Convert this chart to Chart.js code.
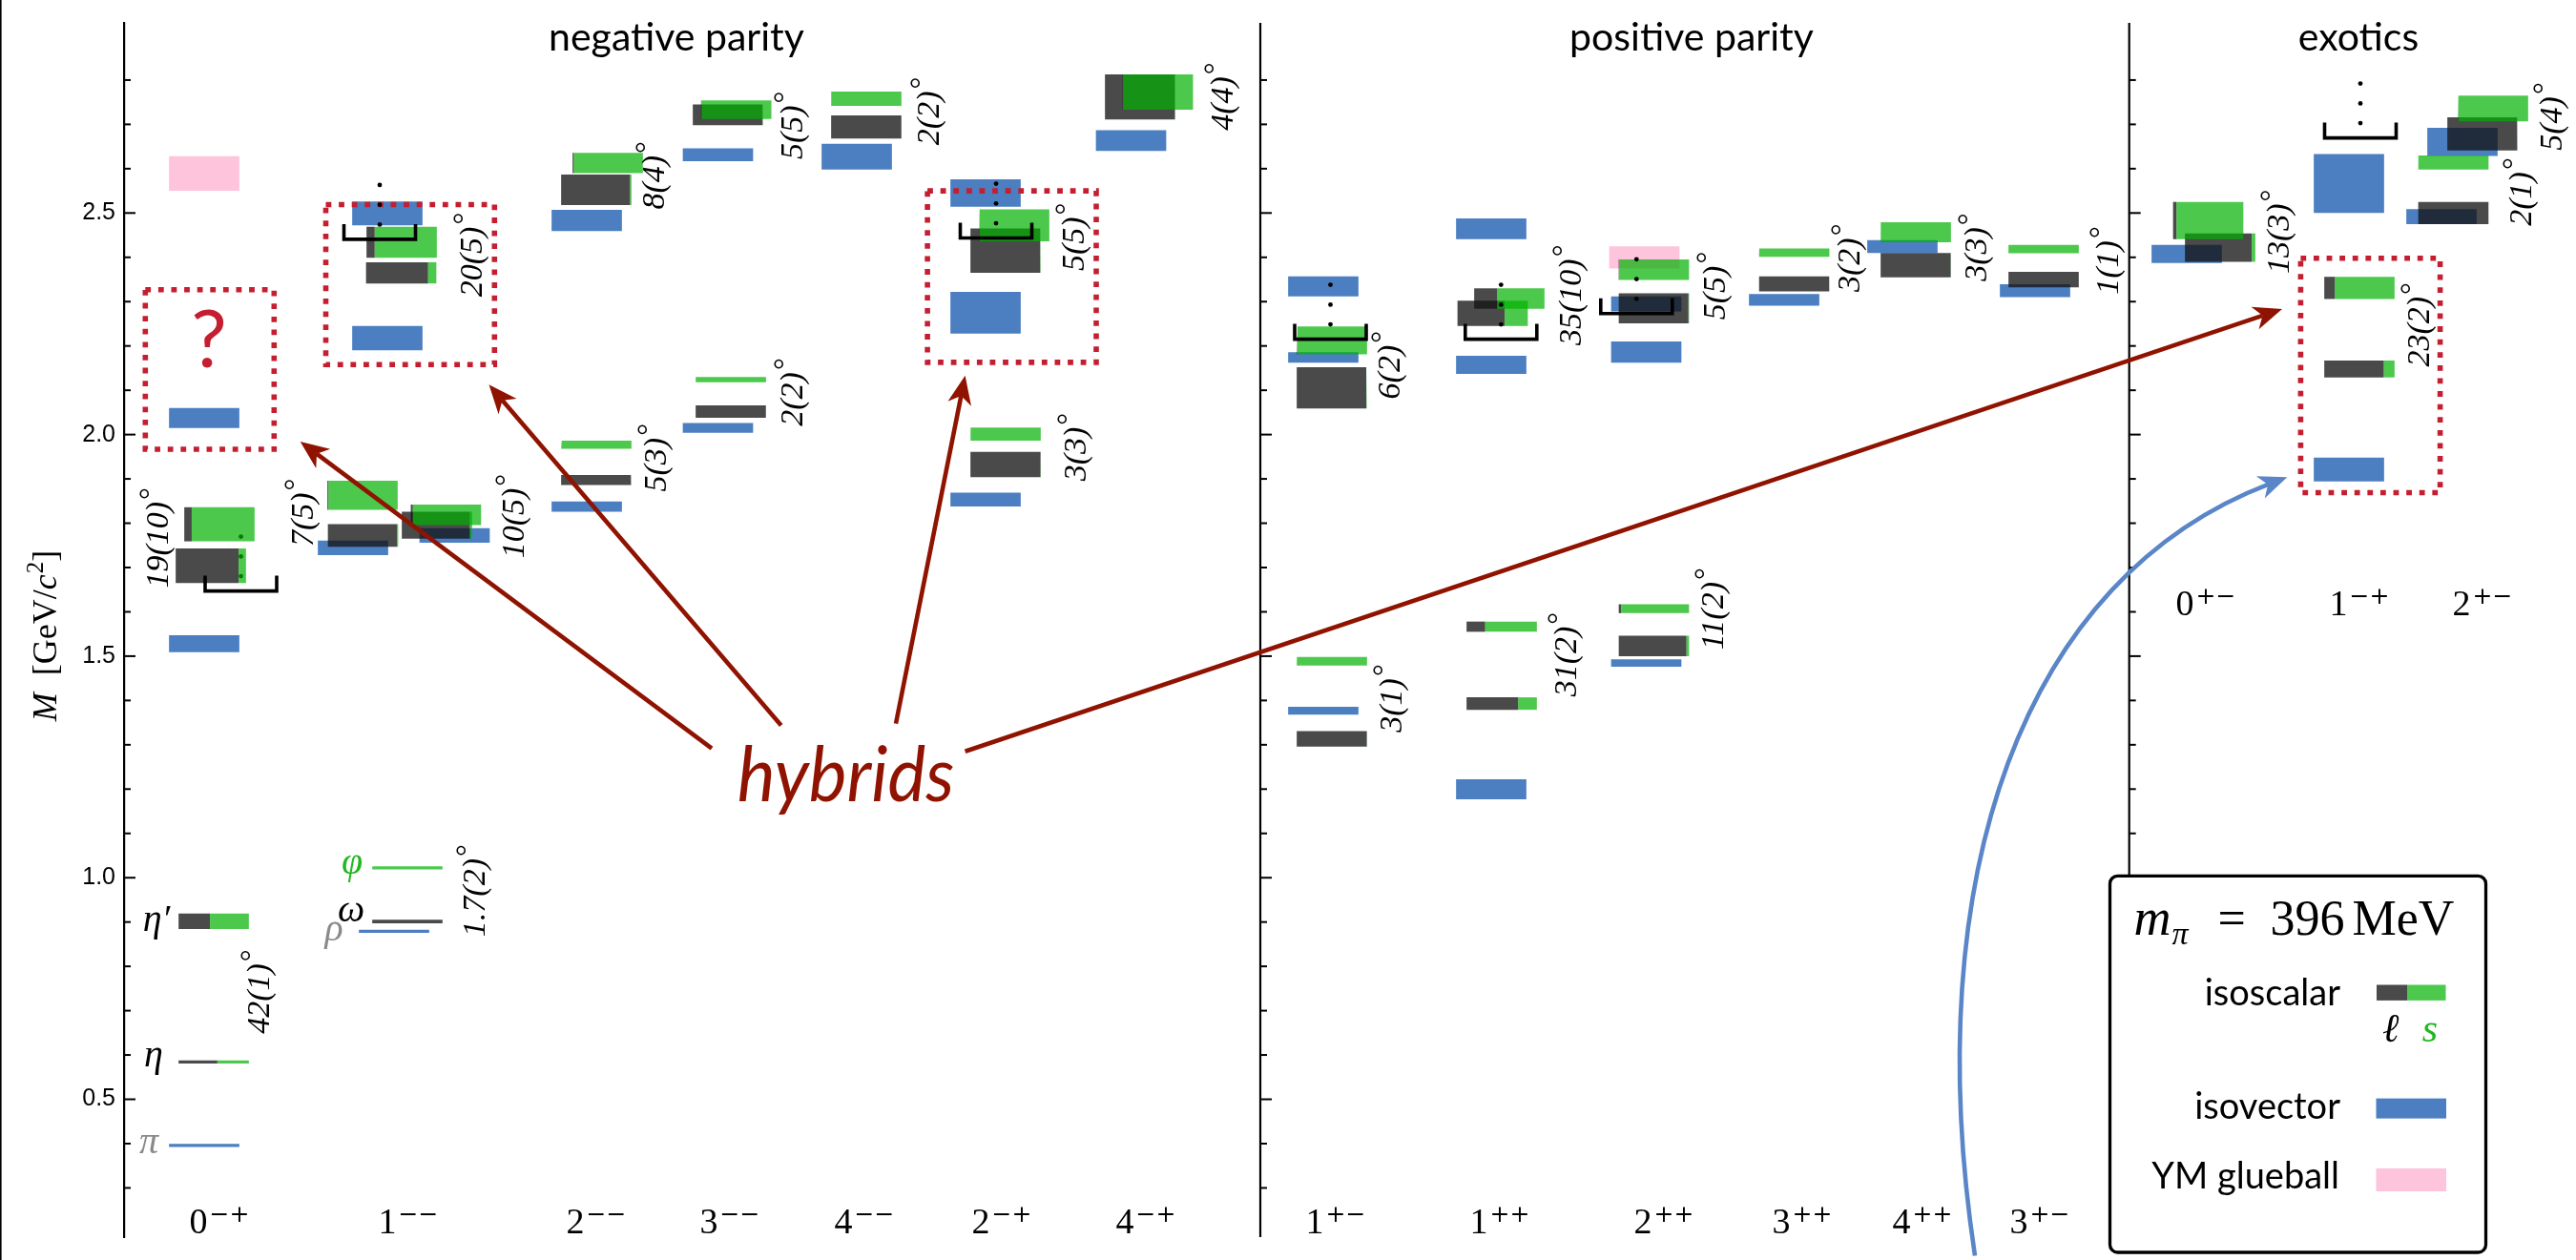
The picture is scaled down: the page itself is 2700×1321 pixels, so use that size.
<!DOCTYPE html>
<html>
<head>
<meta charset="utf-8">
<title>Meson spectrum, m_pi = 396 MeV</title>
<script src="https://cdn.jsdelivr.net/npm/chart.js@4.4.1/dist/chart.umd.min.js"></script>
<style>
  html, body { margin: 0; padding: 0; background: #fff; }
  #wrap { width: 2700px; height: 1321px; position: relative; }
</style>
</head>
<body>
<div id="wrap"><canvas id="spectrum" width="2700" height="1321"></canvas></div>
<script>
// ---------------- data (masses in GeV) ----------------
const channels = ['0-+','1--','2--','3--','4--','2-+','4-+','1+-','1++','2++','3++','4++','3+-','0+-','1-+','2+-'];
const sectionTitles = ['negative parity', 'positive parity', 'exotics'];
const yTickLabels = [0.5, 1.0, 1.5, 2.0, 2.5];
const tickSpan = [0.3, 2.8];
const pionMass = 0.396;

// isovector levels: [channel, M low, M high]
const isovector = [
  ['0-+', 0.3925, 0.3995], ['0-+', 1.509, 1.547], ['0-+', 2.015, 2.060],
  ['1--', 0.8755, 0.8825], ['1--', 1.728, 1.761], ['1--', 1.756, 1.789], ['1--', 2.190, 2.245], ['1--', 2.472, 2.526],
  ['2--', 1.826, 1.849], ['2--', 2.459, 2.507],
  ['3--', 2.004, 2.026], ['3--', 2.617, 2.646],
  ['4--', 2.598, 2.656],
  ['2-+', 1.838, 1.869], ['2-+', 2.228, 2.322], ['2-+', 2.514, 2.576],
  ['4-+', 2.640, 2.687],
  ['1+-', 1.368, 1.386], ['1+-', 2.162, 2.186], ['1+-', 2.312, 2.357],
  ['1++', 1.177, 1.222], ['1++', 2.137, 2.178], ['1++', 2.441, 2.488],
  ['2++', 1.476, 1.493], ['2++', 2.162, 2.210], ['2++', 2.278, 2.312],
  ['3++', 2.291, 2.317],
  ['4++', 2.410, 2.439],
  ['3+-', 2.310, 2.339],
  ['0+-', 2.387, 2.428],
  ['1-+', 1.894, 1.948], ['1-+', 2.500, 2.633],
  ['2+-', 2.475, 2.509], ['2+-', 2.629, 2.692]
];

// Yang-Mills glueballs: [channel, M low, M high]
const glueball = [['0-+', 2.550, 2.628], ['2++', 2.375, 2.425]];

// isoscalar pairs: [channel, mixing angle (deg), its uncertainty,
//                   light-dominated M low, M high, strange-dominated M low, M high]
const isoscalarPairs = [
  ['0-+', 42, '1', 0.5805, 0.5875, 0.884, 0.919],
  ['0-+', 19, '10', 1.665, 1.743, 1.759, 1.836],
  ['1--', 1.7, '2', 0.897, 0.905, 1.019, 1.026],
  ['1--', 7, '5', 1.747, 1.798, 1.830, 1.896],
  ['1--', 10, '5', 1.765, 1.826, 1.796, 1.842],
  ['1--', 20, '5', 2.341, 2.389, 2.399, 2.469],
  ['2--', 5, '3', 1.886, 1.909, 1.968, 1.9865],
  ['2--', 8, '4', 2.518, 2.587, 2.590, 2.636],
  ['3--', 2, '2', 2.038, 2.066, 2.118, 2.130],
  ['3--', 5, '5', 2.698, 2.745, 2.712, 2.754],
  ['4--', 2, '2', 2.668, 2.720, 2.742, 2.774],
  ['2-+', 3, '3', 1.904, 1.961, 1.9865, 2.016],
  ['2-+', 5, '5', 2.365, 2.465, 2.436, 2.508],
  ['4-+', 4, '4', 2.711, 2.813, 2.733, 2.813],
  ['1+-', 3, '1', 1.296, 1.331, 1.479, 1.498],
  ['1+-', 6, '2', 2.059, 2.152, 2.181, 2.244],
  ['1++', 31, '2', 1.379, 1.407, 1.555, 1.578],
  ['1++', 35, '10', 2.245, 2.302, 2.284, 2.330],
  ['2++', 11, '2', 1.500, 1.546, 1.597, 1.617],
  ['2++', 5, '5', 2.251, 2.319, 2.349, 2.395],
  ['3++', 3, '2', 2.323, 2.357, 2.401, 2.420],
  ['4++', 3, '3', 2.355, 2.410, 2.434, 2.479],
  ['3+-', 1, '1', 2.332, 2.367, 2.409, 2.428],
  ['0+-', 13, '3', 2.390, 2.454, 2.441, 2.525],
  ['1-+', 23, '2', 2.129, 2.167, 2.306, 2.356],
  ['2+-', 2, '1', 2.475, 2.525, 2.598, 2.630],
  ['2+-', 5, '4', 2.641, 2.716, 2.707, 2.765]
];

// channels where more states lie above the computed ones, with the mass of the cut
const towerChannels = ['0-+', '1--', '2-+', '1+-', '1++', '2++', '1-+'];
const towerMass = [1.647, 2.4406, 2.4435, 2.2153, 2.2153, 2.2729, 2.6694];

// hybrid candidates: [channel, M low, M high] of the highlighted region
const hybridRegions = [['0-+', 1.967, 2.327], ['1--', 2.158, 2.519], ['2-+', 2.163, 2.550], ['1-+', 1.869, 2.398]];

// ---------------- layout ----------------
const BAR_W = 73.7;
const columnX = {
  '0-+': 230, '1--': 428, '2--': 625, '3--': 765, '4--': 906, '2-+': 1050, '4-+': 1201,
  '1+-': 1400, '1++': 1572, '2++': 1744, '3++': 1889, '4++': 2015, '3+-': 2138,
  '0+-': 2312, '1-+': 2473, '2+-': 2602
};
const exoticRow = ['0+-', '1-+', '2+-'];
const isovectorDx = [-16, -16, -16, -15, -58, 48.5, -22, -22, -10, -10, -12.5, -12.5, -8, -17, -17, -17, -15.5,
  -13, -13, -13, -9, -9, -9, -18.5, -18.5, -18.5, -19, -21, -5, -20, -11, -11, -43, -21];
const glueballDx = [-16, -20.5];
const pairDx = [[-6, -6], [-9, 0], [-1, -1], [-47.5, -48], [30, 39.4], [-7.5, -7], [0, 0], [0, 12], [1, 1], [-2, 6.7],
  [2, 2], [4, 4], [4, 13], [-6, 12.6], [-4, -4], [-4, -4], [2, 2], [-7.5, 10], [-10.5, -10.5], [-10.5, -10.5],
  [-8.4, -8.4], [-7, -7], [4, 4], [15, 2.5], [0, 0], [-30.5, -30.5], [0, 11]];
const angleLabelAt = [[266.5, 0.743], [160.7, 1.767], [493, 0.971], [312.5, 1.824], [533.5, 1.816], [489.7, 2.406],
  [683, 1.948], [681, 2.585], [826, 2.096], [826, 2.698], [969, 2.730], [1123, 1.972], [1121, 2.446], [1277, 2.763],
  [1454, 1.405], [1451.8, 2.157], [1637, 1.504], [1641.5, 2.315], [1791, 1.607], [1793, 2.336], [1934, 2.399],
  [2067, 2.423], [2205, 2.393], [2384, 2.458], [2531, 2.248], [2638, 2.548], [2669.6, 2.718]];
const towerX = [252.5, 398, 1044, 1394.5, 1573.3, 1715.3, 2474];
const towerDotsUnder = [true, false, false, false, false, false, false];
const hybridBoxX = [[152.3, 287.3], [341.5, 518.3], [972.1, 1149], [2411.4, 2557.6]];
const axisX = [130, 1321, 2231.7];
const sectionX = [709, 1773, 2472];
const labelRowMass = { main: 0.197, exotic: 1.5923 };

const BLUE = '#4b7fc1', PINK = '#fdc4dc', GRAY = 'rgba(20,20,20,0.77)', GREEN = 'rgba(0,178,0,0.7)';
const RED_BOX = '#c41e30', HYBRID_RED = '#8f1300', ARROW_BLUE = '#5a86c8';
const SERIF = '"Liberation Serif", "DejaVu Serif", serif';
const SANS = 'Lato, "Open Sans", "DejaVu Sans", sans-serif';

// ---------------- rectangles as closed line shapes ----------------
const pinkPts = [], bluePts = [], grayPts = [], greenPts = [];
function addRect(pts, xa, xb, lo, hi) {
  if (xb - xa <= 0) return;
  pts.push({x: xa, y: lo}, {x: xb, y: lo}, {x: xb, y: hi}, {x: xa, y: hi}, {x: xa, y: null});
}
glueball.forEach(([ch, lo, hi], i) => {
  const c = columnX[ch] + glueballDx[i];
  addRect(pinkPts, c - BAR_W / 2, c + BAR_W / 2, lo, hi);
});
isovector.forEach(([ch, lo, hi], i) => {
  const c = columnX[ch] + isovectorDx[i];
  addRect(bluePts, c - BAR_W / 2, c + BAR_W / 2, lo, hi);
});
isoscalarPairs.forEach(([ch, theta, sig, lLo, lHi, sLo, sHi], i) => {
  const rad = theta * Math.PI / 180;
  const states = [
    [lLo, lHi, Math.cos(rad) ** 2, pairDx[i][0]],   // light-quark fraction cos^2
    [sLo, sHi, Math.sin(rad) ** 2, pairDx[i][1]]    // light-quark fraction sin^2
  ];
  for (const [lo, hi, f, dx] of states) {
    const left = columnX[ch] + dx - BAR_W / 2;
    const split = left + f * BAR_W;
    addRect(grayPts, left, split, lo, hi);
    addRect(greenPts, split, left + BAR_W, lo, hi);
  }
});

// ---------------- text helpers ----------------
function angleLabel(ctx, theta, sigma, px, py) {
  const main = `${theta}(${sigma})`;
  ctx.save();
  ctx.translate(px, py);
  ctx.rotate(-Math.PI / 2);
  ctx.textAlign = 'left';
  ctx.textBaseline = 'alphabetic';
  ctx.fillStyle = '#000';
  ctx.font = `italic 34px ${SERIF}`;
  const w = ctx.measureText(main).width;
  ctx.font = `32px ${SERIF}`;
  const wd = ctx.measureText('°').width;
  const x0 = -(w + wd + 2) / 2;
  ctx.font = `italic 34px ${SERIF}`;
  ctx.fillText(main, x0, 15);
  ctx.font = `32px ${SERIF}`;
  ctx.fillText('°', x0 + w + 2, 7);
  ctx.restore();
}

function channelLabel(ctx, ch, cx, baseY) {
  const J = ch[0];
  const pc = ch.slice(1).replace(/-/g, '\u2212');
  ctx.save();
  ctx.textAlign = 'left';
  ctx.textBaseline = 'alphabetic';
  ctx.fillStyle = '#000';
  ctx.font = `38px ${SERIF}`;
  const wJ = ctx.measureText(J).width;
  ctx.font = `25px "DejaVu Serif", ${SERIF}`;
  const wS = ctx.measureText(pc).width;
  const gap = 2;
  const x0 = cx - (wJ + gap + wS) / 2;
  ctx.font = `38px ${SERIF}`;
  ctx.fillText(J, x0, baseY);
  ctx.font = `25px "DejaVu Serif", ${SERIF}`;
  ctx.fillText(pc, x0 + wJ + gap, baseY - 12);
  ctx.restore();
}

function arrow(ctx, x0, y0, x1, y1, color, width, len, halfW) {
  const ang = Math.atan2(y1 - y0, x1 - x0);
  const notch = 0.72;
  const ca = Math.cos(ang), sa = Math.sin(ang);
  ctx.save();
  ctx.strokeStyle = color; ctx.fillStyle = color; ctx.lineWidth = width; ctx.lineCap = 'butt';
  ctx.beginPath();
  ctx.moveTo(x0, y0);
  ctx.lineTo(x1 - ca * len * notch, y1 - sa * len * notch);
  ctx.stroke();
  arrowHead(ctx, x1, y1, ang, len, halfW, notch);
  ctx.restore();
}
function arrowHead(ctx, tx, ty, ang, len, halfW, notch) {
  const ca = Math.cos(ang), sa = Math.sin(ang);
  const bx = tx - ca * len, by = ty - sa * len;
  const nx = -sa, ny = ca;
  ctx.beginPath();
  ctx.moveTo(tx, ty);
  ctx.lineTo(bx + nx * halfW, by + ny * halfW);
  ctx.lineTo(tx - ca * len * notch, ty - sa * len * notch);
  ctx.lineTo(bx - nx * halfW, by - ny * halfW);
  ctx.closePath();
  ctx.fill();
}

// ---------------- annotation plugin ----------------
const annotations = {
  id: 'spectrumAnnotations',
  beforeDatasetsDraw(chart) {
    const {ctx} = chart;
    const X = v => chart.scales.x.getPixelForValue(v);
    const Y = v => chart.scales.y.getPixelForValue(v);
    ctx.save();
    ctx.fillStyle = '#000';
    towerChannels.forEach((ch, i) => {
      if (!towerDotsUnder[i]) return;
      drawTowerDots(ctx, X(towerX[i]), Y(towerMass[i]));
    });
    ctx.restore();
  },
  afterDatasetsDraw(chart) {
    const {ctx, chartArea} = chart;
    const xs = chart.scales.x, ys = chart.scales.y;
    const X = v => xs.getPixelForValue(v);
    const Y = v => ys.getPixelForValue(v);
    ctx.save();

    // frame line on the far left
    ctx.fillStyle = '#000';
    ctx.fillRect(0, 0, 1.6, chart.height);

    // section axes and inward ticks
    ctx.strokeStyle = '#000';
    axisX.forEach((ax, k) => {
      const px = X(ax);
      if (k > 0) {
        ctx.lineWidth = 2.2;
        ctx.beginPath(); ctx.moveTo(px, chartArea.top); ctx.lineTo(px, chartArea.bottom); ctx.stroke();
      }
      ctx.lineWidth = 2;
      ys.ticks.forEach(t => {
        const major = yTickLabels.some(v => Math.abs(v - t.value) < 1e-6);
        const py = Y(t.value);
        ctx.beginPath(); ctx.moveTo(px, py); ctx.lineTo(px + (major ? 12 : 7), py); ctx.stroke();
      });
    });

    // hybrid regions: dotted red boxes
    ctx.save();
    ctx.strokeStyle = RED_BOX; ctx.lineWidth = 5.6; ctx.setLineDash([5.8, 7.8]); ctx.lineCap = 'butt';
    hybridRegions.forEach(([ch, lo, hi], i) => {
      const xa = X(hybridBoxX[i][0]), xb = X(hybridBoxX[i][1]);
      ctx.strokeRect(xa, Y(hi), xb - xa, Y(lo) - Y(hi));
    });
    ctx.restore();

    // question mark in the 0-+ hybrid region
    ctx.fillStyle = RED_BOX;
    ctx.font = `84px ${SANS}`;
    ctx.textAlign = 'center'; ctx.textBaseline = 'alphabetic';
    ctx.fillText('?', X(219), Y(2.151));

    // brackets marking further states above
    ctx.strokeStyle = '#000'; ctx.lineWidth = 3.6; ctx.lineJoin = 'miter';
    towerChannels.forEach((ch, i) => {
      const cx = X(towerX[i]), cy = Y(towerMass[i]);
      ctx.beginPath();
      ctx.moveTo(cx - 37.5, cy - 16); ctx.lineTo(cx - 37.5, cy); ctx.lineTo(cx + 37.5, cy); ctx.lineTo(cx + 37.5, cy - 16);
      ctx.stroke();
      if (!towerDotsUnder[i]) { ctx.fillStyle = '#000'; drawTowerDots(ctx, cx, cy); }
    });

    // mixing-angle labels
    isoscalarPairs.forEach(([ch, theta, sig], i) => {
      angleLabel(ctx, theta, sig, X(angleLabelAt[i][0]), Y(angleLabelAt[i][1]));
    });

    // ground-state names
    ctx.textAlign = 'center'; ctx.textBaseline = 'alphabetic';
    ctx.font = `italic 40px ${SERIF}`;
    const names = [['\u03C0', 156, 0.3786, '#8a8a8a'], ['\u03B7', 161, 0.5746, '#000'], ['\u03B7\u2032', 164, 0.880, '#000'],
                   ['\u03C1', 350, 0.8576, '#8a8a8a'], ['\u03C9', 368, 0.902, '#000'], ['\u03C6', 369, 1.0086, '#1fb81f']];
    names.forEach(([t, x, m, c]) => { ctx.fillStyle = c; ctx.fillText(t, X(x), Y(m)); });

    // channel labels
    channels.forEach(ch => {
      const row = exoticRow.includes(ch) ? labelRowMass.exotic : labelRowMass.main;
      channelLabel(ctx, ch, X(columnX[ch]), Y(row));
    });

    // section titles
    ctx.fillStyle = '#000';
    ctx.font = `41px ${SANS}`;
    ctx.textAlign = 'center'; ctx.textBaseline = 'alphabetic';
    sectionTitles.forEach((t, i) => ctx.fillText(t, X(sectionX[i]), chartArea.top + 29));

    // y-axis title
    drawYTitle(ctx, 59, (chartArea.top + chartArea.bottom) / 2 + 6);

    // hybrids annotation
    ctx.save();
    ctx.font = `italic 80px ${SANS}`;
    const hw = ctx.measureText('hybrids').width;
    ctx.translate(X(772.8), Y(1.1723));
    ctx.scale(227.6 / hw, 1);
    ctx.fillStyle = HYBRID_RED; ctx.textAlign = 'left';
    ctx.fillText('hybrids', 0, 0);
    ctx.restore();
    const hybridArrows = [[746, 1.2920, 314.7, 1.9842], [818.75, 1.3437, 512.5, 2.1127],
                          [939, 1.3479, 1011.6, 2.1330], [1011.6, 1.2851, 2392, 2.2834]];
    hybridArrows.forEach(([xa, ma, xb, mb]) => arrow(ctx, X(xa), Y(ma), X(xb), Y(mb), HYBRID_RED, 4.6, 30, 12.5));

    // curved arrow pointing at the lightest exotic
    const p0 = [X(2070), Y(0.147)], p1 = [X(2010), Y(1.003)], p2 = [X(2120), Y(1.677)], p3 = [X(2397.3), Y(1.904)];
    ctx.save();
    ctx.strokeStyle = ARROW_BLUE; ctx.fillStyle = ARROW_BLUE; ctx.lineWidth = 4.6;
    const ang = Math.atan2(p3[1] - p2[1], p3[0] - p2[0]);
    ctx.beginPath();
    ctx.moveTo(p0[0], p0[1]);
    ctx.bezierCurveTo(p1[0], p1[1], p2[0], p2[1], p3[0] - Math.cos(ang) * 20, p3[1] - Math.sin(ang) * 20);
    ctx.stroke();
    arrowHead(ctx, p3[0], p3[1], ang, 30, 12.5, 0.72);
    ctx.restore();

    // legend
    drawLegend(ctx);
    ctx.restore();
  }
};

function drawTowerDots(ctx, cx, cy) {
  [15.5, 36.2, 57].forEach(d => { ctx.beginPath(); ctx.arc(cx, cy - d, 2.4, 0, Math.PI * 2); ctx.fill(); });
}

function drawYTitle(ctx, baseX, cy) {
  const parts = [
    ['M', `italic 36px ${SERIF}`, 0, 18],
    ['[GeV/', `36px ${SERIF}`, 0, 0],
    ['c', `italic 36px ${SERIF}`, 0, 1],
    ['2', `25px ${SERIF}`, -14, 0],
    [']', `36px ${SERIF}`, 0, 0]
  ];
  ctx.save();
  ctx.translate(baseX, cy);
  ctx.rotate(-Math.PI / 2);
  ctx.textAlign = 'left'; ctx.textBaseline = 'alphabetic'; ctx.fillStyle = '#000';
  let total = 0;
  parts.forEach(([t, f, dy, gap]) => { ctx.font = f; total += ctx.measureText(t).width + gap; });
  let x = -total / 2;
  parts.forEach(([t, f, dy, gap]) => { ctx.font = f; ctx.fillText(t, x, dy); x += ctx.measureText(t).width + gap; });
  ctx.restore();
}

function drawLegend(ctx) {
  const L = 2211.5, T = 918.4, R = 2605.5, B = 1313;
  ctx.save();
  ctx.beginPath();
  ctx.roundRect(L, T, R - L, B - T, 8);
  ctx.fillStyle = '#fff'; ctx.fill();
  ctx.lineWidth = 3.3; ctx.strokeStyle = '#000'; ctx.stroke();

  ctx.fillStyle = '#000'; ctx.textBaseline = 'alphabetic'; ctx.textAlign = 'left';
  ctx.font = `italic 54px ${SERIF}`;
  ctx.fillText('m', L + 25, T + 61.6);
  const mw = ctx.measureText('m').width;
  ctx.font = `italic 34px ${SERIF}`;
  ctx.fillText('\u03C0', L + 25 + mw + 1, T + 72);
  ctx.font = `52px ${SERIF}`;
  ctx.fillText('=', L + 113, T + 61.6);
  ctx.fillText(String(Math.round(pionMass * 1000)), L + 168, T + 61.6);
  ctx.fillText('MeV', L + 254, T + 61.6);

  ctx.font = `38px ${SANS}`;
  ctx.textAlign = 'right';
  ctx.fillText('isoscalar', L + 241.5, T + 135.1);
  ctx.fillText('isovector', L + 241.5, T + 254.2);
  ctx.fillText('YM glueball', L + 240.5, T + 327.6);

  ctx.fillStyle = 'rgb(74,74,74)'; ctx.fillRect(L + 279.5, T + 114.1, 32, 16.4);
  ctx.fillStyle = 'rgb(76,201,76)'; ctx.fillRect(L + 311.5, T + 114.1, 40.5, 16.4);
  ctx.fillStyle = BLUE; ctx.fillRect(L + 279, T + 233.2, 73.5, 21);
  ctx.fillStyle = PINK; ctx.fillRect(L + 279, T + 306.6, 73.5, 24);

  ctx.textAlign = 'center';
  ctx.font = `italic 42px ${SERIF}`;
  ctx.fillStyle = '#000';
  ctx.fillText('\u2113', L + 294.3, T + 173.6);
  ctx.fillStyle = '#1fb81f';
  ctx.fillText('s', L + 335.5, T + 173.6);
  ctx.restore();
}

// ---------------- chart ----------------
const shape = (label, data, color, order) => ({
  label, data, backgroundColor: color, borderColor: color, borderWidth: 0,
  fill: 'shape', pointRadius: 0, pointHoverRadius: 0, tension: 0, order
});

new Chart(document.getElementById('spectrum'), {
  type: 'line',
  data: {
    datasets: [
      shape('YM glueball', pinkPts, PINK, 4),
      shape('isovector', bluePts, BLUE, 3),
      shape('isoscalar (light)', grayPts, GRAY, 2),
      shape('isoscalar (strange)', greenPts, GREEN, 1)
    ]
  },
  options: {
    responsive: false,
    animation: false,
    devicePixelRatio: 1,
    events: [],
    layout: { padding: { top: 13.5, bottom: 7, left: 0, right: 0 } },
    plugins: { legend: { display: false }, tooltip: { enabled: false } },
    scales: {
      x: { type: 'linear', min: 130, max: 2700, display: false },
      y: {
        type: 'linear', position: 'left', min: 0.189, max: 2.929,
        afterFit(scale) { scale.width = 130; },
        afterBuildTicks(scale) {
          scale.ticks = scale.ticks.filter(t => t.value > tickSpan[0] - 1e-6 && t.value < tickSpan[1] + 1e-6);
        },
        grid: { display: false, drawTicks: false },
        border: { display: true, color: '#000', width: 2.2 },
        ticks: {
          stepSize: 0.1, includeBounds: false, autoSkip: false, padding: 9, color: '#000',
          font: { family: '"Liberation Sans", Arial, sans-serif', size: 25 },
          callback(v) { return yTickLabels.some(t => Math.abs(t - v) < 1e-6) ? Number(v).toFixed(1) : ''; }
        }
      }
    }
  },
  plugins: [annotations]
});
</script>
</body>
</html>
